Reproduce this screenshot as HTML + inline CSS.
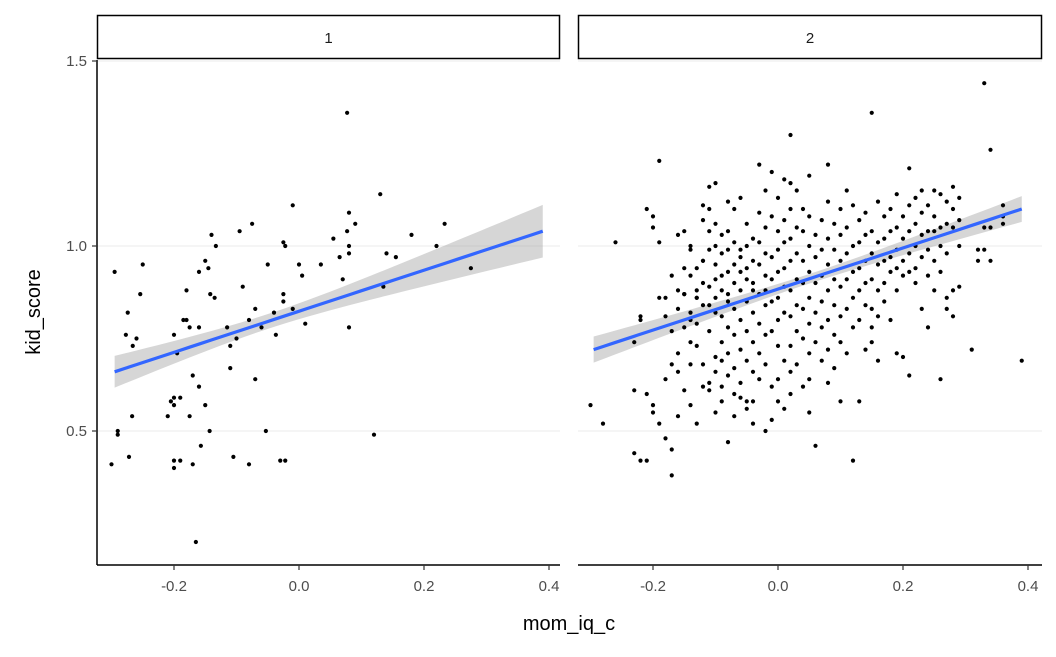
<!DOCTYPE html>
<html><head><meta charset="utf-8"><style>
body{margin:0;background:#fff}
svg text{font-family:"Liberation Sans",Arial,sans-serif}
</style></head><body>
<svg id="chart" width="1056" height="652" viewBox="0 0 1056 652" xmlns="http://www.w3.org/2000/svg"></svg>
<script>
const panelLabels = ["1","2"];
const xTicks = [-0.2, 0.0, 0.2, 0.4];
const xTickLabels = ["-0.2","0.0","0.2","0.4"];
const yTicks = [0.5, 1.0, 1.5];
const yTickLabels = ["0.5","1.0","1.5"];
// fitted smooth line: x range and y at start/end, per panel
const smoothXRange = [-0.295, 0.39];
const smoothYStart = [0.66, 0.72];
const smoothYEnd = [1.04, 1.10];
// confidence band: x of narrowest point, min half-width, growth rate
const bandCenterX = [-0.05, 0.05];
const bandMinHalf = [0.02, 0.013];
const bandGrowth = [0.155, 0.095];
const panel1Points = [[-0.30,0.41],[-0.295,0.93],[-0.29,0.50],[-0.29,0.49],[-0.277,0.76],[-0.274,0.82],[-0.272,0.43],[-0.267,0.54],[-0.266,0.73],[-0.26,0.75],
[-0.25,0.95],[-0.254,0.87],[-0.205,0.58],[-0.21,0.54],[-0.2,0.59],[-0.2,0.57],[-0.2,0.42],[-0.2,0.40],[-0.195,0.71],[-0.2,0.76],
[-0.19,0.42],[-0.185,0.80],[-0.18,0.88],[-0.19,0.59],[-0.17,0.41],[-0.175,0.54],[-0.175,0.78],[-0.18,0.80],[-0.17,0.65],[-0.16,0.78],
[-0.16,0.62],[-0.16,0.93],[-0.165,0.20],[-0.157,0.46],[-0.15,0.57],[-0.15,0.96],[-0.145,0.94],[-0.14,1.03],[-0.143,0.50],[-0.142,0.87],
[-0.133,1.00],[-0.135,0.86],[-0.115,0.78],[-0.11,0.67],[-0.11,0.73],[-0.105,0.43],[-0.1,0.75],[-0.095,1.04],[-0.09,0.89],[-0.08,0.80],
[-0.08,0.41],[-0.075,1.06],[-0.07,0.83],[-0.07,0.64],[-0.06,0.78],[-0.053,0.50],[-0.05,0.95],[-0.037,0.76],[-0.04,0.82],[-0.025,0.85],
[-0.025,0.87],[-0.025,1.01],[-0.022,1.00],[-0.022,0.42],[-0.03,0.42],[-0.01,1.11],[-0.01,0.83],[0.0,0.95],[0.005,0.92],[0.01,0.79],
[0.035,0.95],[0.055,1.02],[0.065,0.97],[0.07,0.91],[0.077,1.36],[0.077,1.04],[0.08,1.00],[0.08,0.98],[0.08,1.09],[0.09,1.06],
[0.08,0.78],[0.12,0.49],[0.13,1.14],[0.14,0.98],[0.135,0.89],[0.155,0.97],[0.18,1.03],[0.22,1.00],[0.233,1.06],[0.275,0.94]];
const panel2Bins = [[-0.30,[0.57]],[-0.28,[0.52]],[-0.26,[1.01]],[-0.23,[0.61,0.74,0.44]],[-0.22,[0.42,0.80,0.81]],[-0.21,[0.42,1.10,0.60]],
[-0.20,[1.08,1.05,0.57,0.55]],[-0.19,[1.23,0.86,0.52,1.01]],[-0.18,[0.48,0.86,0.81,0.64]],[-0.17,[0.45,0.38,0.92,0.68,0.77]],
[-0.16,[0.71,0.88,1.03,0.83,0.66,0.54]],[-0.15,[0.87,0.78,0.94,1.04,0.61,0.87]],[-0.14,[0.82,0.92,0.80,0.99,1.00,0.68,0.74,0.57]],
[-0.13,[0.94,0.86,0.88,0.79,0.52,0.86,0.73]],[-0.12,[1.07,1.11,0.96,0.90,0.68,0.62,0.84,0.96]],[-0.11,[1.16,1.10,1.04,0.89,0.84,0.77,0.63,0.61,0.99]],
[-0.10,[1.17,1.06,1.00,0.95,0.91,0.86,0.82,0.70,0.66,0.55]],[-0.09,[1.03,0.98,0.88,0.81,0.74,0.69,0.62,0.58,0.92]],
[-0.08,[1.12,1.04,0.99,0.93,0.87,0.78,0.71,0.65,0.47,0.85]],[-0.07,[1.10,1.01,0.95,0.90,0.83,0.76,0.67,0.60,0.54]],
[-0.06,[1.13,0.99,0.93,0.88,0.80,0.72,0.63,0.59,0.97]],[-0.05,[1.06,1.00,0.91,0.85,0.77,0.69,0.58,0.56,0.94]],
[-0.04,[1.02,0.96,0.90,0.82,0.74,0.66,0.58,0.52,0.88]],[-0.03,[1.22,1.09,1.01,0.95,0.87,0.79,0.71,0.64]],
[-0.02,[1.15,1.05,0.98,0.92,0.84,0.76,0.68,0.50,0.88]],[-0.01,[1.20,1.08,0.97,0.91,0.85,0.77,0.62,0.53]],
[0.00,[1.13,1.04,0.99,0.93,0.86,0.80,0.73,0.64,0.58]],[0.01,[1.18,1.07,1.01,0.94,0.89,0.82,0.69,0.56]],
[0.02,[1.30,1.17,1.10,1.02,0.96,0.88,0.81,0.73,0.66,0.60]],[0.03,[1.15,1.05,0.98,0.91,0.84,0.77,0.68]],
[0.04,[1.10,1.04,0.96,0.90,0.83,0.75,0.62]],[0.05,[1.19,1.08,1.00,0.93,0.86,0.79,0.71,0.64,0.55]],
[0.06,[1.03,0.97,0.90,0.82,0.74,0.46]],[0.07,[1.07,0.99,0.92,0.85,0.78,0.69]],[0.08,[1.22,1.12,1.02,0.95,0.88,0.80,0.72,0.63]],
[0.09,[1.06,0.99,0.91,0.84,0.76,0.67]],[0.10,[1.10,1.03,0.96,0.89,0.81,0.74,0.58]],[0.11,[1.15,1.05,0.98,0.91,0.83,0.71]],
[0.12,[1.11,1.00,0.93,0.86,0.78,0.42]],[0.13,[1.07,1.01,0.94,0.88,0.80,0.58]],[0.14,[1.09,1.03,0.96,0.90,0.84,0.72]],
[0.15,[1.36,1.04,0.98,0.91,0.83,0.78,0.74]],[0.16,[1.12,1.01,0.95,0.88,0.81,0.69]],[0.17,[1.08,1.02,0.96,0.90,0.85]],
[0.18,[1.10,1.04,0.97,0.93,0.80]],[0.19,[1.14,1.05,0.99,0.94,0.88,0.71]],[0.20,[1.08,1.02,0.96,0.92,0.70]],
[0.21,[1.21,1.11,1.04,0.98,0.93,0.65]],[0.22,[1.13,1.06,1.00,0.94,0.90]],[0.23,[1.15,1.09,1.03,0.97,0.83]],
[0.24,[1.11,1.04,0.99,0.92,0.78]],[0.25,[1.15,1.08,1.04,0.96,0.88]],[0.26,[1.14,1.05,1.00,0.93,0.64]],
[0.27,[1.12,1.06,0.98,0.86,0.83]],[0.28,[1.16,1.10,1.05,0.88,0.81]],[0.29,[1.13,1.07,1.00,0.89]],[0.31,[0.72]],
[0.32,[0.99,0.96]],[0.33,[1.44,1.05,0.99]],[0.34,[1.26,1.05,0.96]],[0.36,[1.11,1.08,1.06]],[0.39,[0.69]]];

const NS="http://www.w3.org/2000/svg";
const svg=document.getElementById('chart');
function mk(tag,attrs,parent){const e=document.createElementNS(NS,tag);for(const k in attrs)e.setAttribute(k,attrs[k]);(parent||svg).appendChild(e);return e;}
const panels=[{left:97,right:560,x0:299},{left:578,right:1042,x0:778}];
const pxPerX=625, plotTop=60, plotBottom=565;
function yScale(v){return 616-v*370;}
const panelData=[panel1Points, panel2Bins.flatMap(b=>b[1].map(y=>[b[0],y]))];

panels.forEach((p,pi)=>{
  yTicks.forEach((t,i)=>{
    const g=mk('line',{x1:p.left,x2:p.right,y1:yScale(t),y2:yScale(t),stroke:'#ebebeb','stroke-width':1});
    
    
  });
});

panels.forEach((p,pi)=>{
  const xs=v=>p.x0+v*pxPerX;
  const pts=panelData[pi];
  const g=mk('g',{});
  
  
  const x0=smoothXRange[0], x1=smoothXRange[1];
  const slope=(smoothYEnd[pi]-smoothYStart[pi])/(x1-x0);
  const up=[],lo=[],ln=[];
  for(let i=0;i<=40;i++){const x=x0+(x1-x0)*i/40;const yh=smoothYStart[pi]+slope*(x-x0);
    const hw=Math.sqrt(bandMinHalf[pi]**2+(bandGrowth[pi]*(x-bandCenterX[pi]))**2);
    up.push(xs(x)+','+yScale(yh+hw));lo.unshift(xs(x)+','+yScale(yh-hw));ln.push(xs(x)+','+yScale(yh));}
  const band=mk('polygon',{points:up.concat(lo).join(' '),fill:'#999999','fill-opacity':0.4},g);
  
  
  pts.forEach(d=>{
    const c=mk('circle',{cx:xs(d[0]),cy:yScale(d[1]),r:2.1,fill:'#000'},g);
    
    
  });
  const line=mk('polyline',{points:ln.join(' '),fill:'none',stroke:'#3366FF','stroke-width':3.2},g);
  
  
  const strip=mk('rect',{x:p.left+0.5,y:15.5,width:p.right-p.left-1,height:43,fill:'#fff',stroke:'#000','stroke-width':1.5});
  
  
  const st=mk('text',{x:(p.left+p.right)/2,y:43,'text-anchor':'middle','font-size':15,fill:'#1a1a1a'});
  st.textContent=panelLabels[pi];
  
  
  const ax=mk('line',{x1:p.left,x2:p.right,y1:plotBottom,y2:plotBottom,stroke:'#000','stroke-width':1.5});
  
  
  xTicks.forEach((t,i)=>{
    const tk=mk('line',{x1:xs(t),x2:xs(t),y1:plotBottom,y2:plotBottom+5,stroke:'#333','stroke-width':1.2});
    
    
    const tl=mk('text',{x:xs(t),y:plotBottom+26,'text-anchor':'middle','font-size':15,fill:'#4d4d4d'});
    tl.textContent=xTickLabels[i];
    
    
  });
});
const yl=mk('line',{x1:97,x2:97,y1:plotTop,y2:plotBottom,stroke:'#000','stroke-width':1.5});


yTicks.forEach((t,i)=>{
  const tk=mk('line',{x1:92,x2:97,y1:yScale(t),y2:yScale(t),stroke:'#333','stroke-width':1.2});
  
  
  const tl=mk('text',{x:87,y:yScale(t)+5,'text-anchor':'end','font-size':15,fill:'#4d4d4d'});
  tl.textContent=yTickLabels[i];
  
  
});
const xt=mk('text',{x:569,y:630,'text-anchor':'middle','font-size':20,fill:'#000'});
xt.textContent='mom_iq_c';


const yt=mk('text',{x:0,y:0,transform:'translate(40,312) rotate(-90)','text-anchor':'middle','font-size':20,fill:'#000'});
yt.textContent='kid_score';


</script>
</body></html>
